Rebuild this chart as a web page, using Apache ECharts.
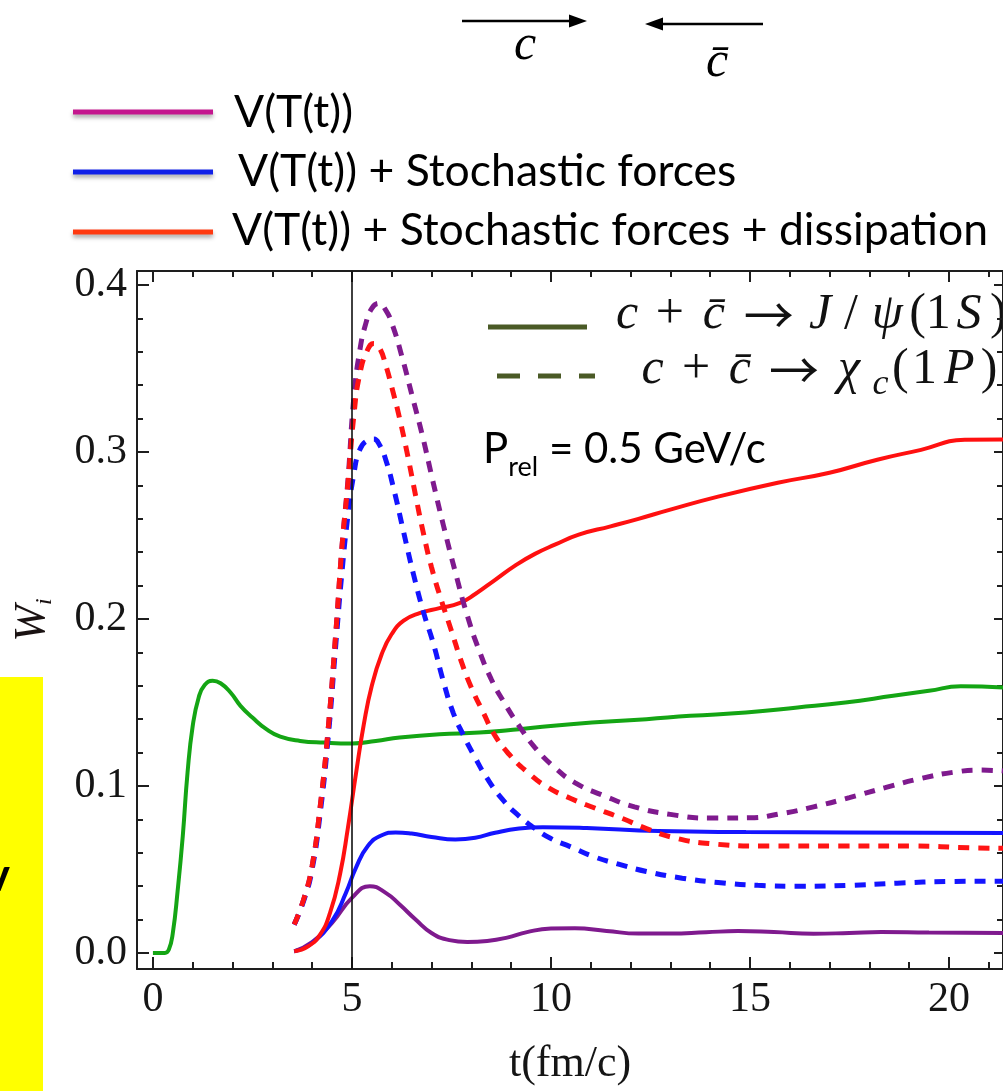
<!DOCTYPE html>
<html>
<head>
<meta charset="utf-8">
<script src="https://cdn.jsdelivr.net/npm/echarts@6/dist/echarts.min.js"></script>
<style>
  html, body { margin: 0; padding: 0; background: #ffffff; }
  #chart { width: 1003px; height: 1091px; }
</style>
</head>
<body>
<div id="chart"></div>
<script>
// ---- tick values ----
const xMajor = [0, 5, 10, 15, 20];
const xMinor = [1, 2, 3, 4, 6, 7, 8, 9, 11, 12, 13, 14, 16, 17, 18, 19, 21];
const yMajor = [0, 0.1, 0.2, 0.3, 0.4];
const yMinor = [0.02, 0.04, 0.06, 0.08, 0.12, 0.14, 0.16, 0.18, 0.22, 0.24, 0.26, 0.28, 0.32, 0.34, 0.36, 0.38];
const tMark = 5;

// ---- J/psi(1S), green ----
const tGreen = [0, 0.3, 0.4, 0.5, 0.62, 0.75, 0.87, 1.0, 1.15, 1.3, 1.5, 1.7, 1.95, 2.2, 2.5, 2.85, 3.2, 3.7, 4.3, 5.0, 5.6, 6.2, 7.2, 8.2, 9.2, 10.5, 12.4, 13.5, 14.9, 16.2, 17.4, 18.6, 19.5, 20.3, 21.36];
const wGreen = [0, 0, 0.002, 0.012, 0.037, 0.070, 0.108, 0.136, 0.153, 0.1605, 0.163, 0.1615, 0.156, 0.148, 0.141, 0.134, 0.1295, 0.127, 0.126, 0.1255, 0.127, 0.129, 0.131, 0.132, 0.134, 0.137, 0.140, 0.142, 0.144, 0.147, 0.150, 0.154, 0.157, 0.1597, 0.159];

// ---- J/psi(1S): V(T(t)) ----
const tPurpleS = [3.55, 4.0, 4.5, 5.0, 5.45, 5.85, 6.2, 6.6, 7.0, 7.45, 7.9, 8.4, 8.9, 9.4, 10.0, 10.6, 11.4, 12.2, 13.0, 13.9, 14.7, 15.6, 16.6, 17.5, 18.3, 19.5, 21.36];
const wPurpleS = [0.001, 0.0065, 0.018, 0.033, 0.040, 0.036, 0.029, 0.020, 0.012, 0.0077, 0.0066, 0.0072, 0.0092, 0.0125, 0.0146, 0.0148, 0.0132, 0.0116, 0.0116, 0.0124, 0.0131, 0.0125, 0.0115, 0.012, 0.0126, 0.0122, 0.012];

// ---- J/psi(1S): V(T(t)) + stochastic forces ----
const tBlueS = [3.55, 4.0, 4.5, 4.85, 5.1, 5.4, 5.75, 6.1, 6.5, 7.0, 7.6, 8.1, 8.6, 9.2, 9.8, 10.9, 12.7, 14.9, 17.4, 21.36];
const wBlueS = [0.001, 0.006, 0.019, 0.036, 0.051, 0.064, 0.0705, 0.0722, 0.0715, 0.0695, 0.068, 0.069, 0.072, 0.0745, 0.0753, 0.0748, 0.073, 0.0724, 0.0722, 0.0718];

// ---- J/psi(1S): V(T(t)) + stochastic forces + dissipation ----
const tRedS = [3.55, 3.9, 4.2, 4.45, 4.7, 4.9, 5.1, 5.3, 5.5, 5.75, 6.0, 6.3, 6.7, 7.2, 7.7, 8.1, 8.6, 9.1, 9.6, 10.1, 10.7, 11.5, 12.2, 13.0, 14.2, 15.7, 17.0, 18.2, 19.3, 20.4, 21.36];
const wRedS = [0.001, 0.004, 0.011, 0.024, 0.047, 0.075, 0.107, 0.137, 0.160, 0.179, 0.191, 0.199, 0.2035, 0.2065, 0.2095, 0.215, 0.2235, 0.232, 0.239, 0.2445, 0.2505, 0.2555, 0.260, 0.2655, 0.2733, 0.2816, 0.2876, 0.2954, 0.3013, 0.3073, 0.3075];

// ---- chi_c(1P): V(T(t)) ----
const tPurpleD = [3.55, 3.8, 4.0, 4.2, 4.4, 4.6, 4.75, 4.9, 5.05, 5.2, 5.35, 5.5, 5.68, 5.85, 6.02, 6.27, 6.52, 6.78, 7.02, 7.3, 7.6, 7.9, 8.2, 8.5, 8.8, 9.2, 9.6, 10.1, 10.6, 11.3, 12.1, 13.0, 14.0, 15.0, 15.8, 16.6, 17.5, 18.4, 19.3, 20.2, 20.8, 21.36];
const wPurpleD = [0.017, 0.033, 0.052, 0.087, 0.133, 0.193, 0.243, 0.283, 0.333, 0.361, 0.377, 0.386, 0.389, 0.385, 0.376, 0.356, 0.333, 0.309, 0.284, 0.256, 0.228, 0.202, 0.181, 0.164, 0.151, 0.136, 0.123, 0.111, 0.102, 0.0945, 0.0875, 0.083, 0.0808, 0.081, 0.0835, 0.0875, 0.093, 0.099, 0.1045, 0.1085, 0.1095, 0.109];

// ---- chi_c(1P): V(T(t)) + stochastic forces ----
const tBlueD = [3.55, 3.8, 4.0, 4.2, 4.4, 4.6, 4.75, 4.9, 5.05, 5.2, 5.4, 5.55, 5.7, 5.85, 6.05, 6.3, 6.55, 6.8, 7.05, 7.3, 7.55, 7.8, 8.05, 8.4, 8.8, 9.2, 9.6, 10.0, 10.5, 11.1, 11.7, 12.4, 13.3, 14.2, 15.2, 16.3, 17.5, 18.7, 20.0, 21.36];
const wBlueD = [0.017, 0.032, 0.05, 0.083, 0.128, 0.186, 0.228, 0.262, 0.287, 0.3015, 0.307, 0.3078, 0.304, 0.2954, 0.278, 0.252, 0.2265, 0.204, 0.185, 0.1625, 0.1435, 0.1305, 0.119, 0.1045, 0.0915, 0.082, 0.0745, 0.0685, 0.0635, 0.0575, 0.0532, 0.0488, 0.0448, 0.0422, 0.0405, 0.040, 0.0405, 0.0418, 0.0428, 0.043];

// ---- chi_c(1P): V(T(t)) + stochastic forces + dissipation ----
const tRedD = [3.55, 3.8, 4.0, 4.2, 4.4, 4.6, 4.75, 4.9, 5.05, 5.2, 5.4, 5.55, 5.7, 5.85, 6.0, 6.2, 6.4, 6.6, 6.8, 7.0, 7.25, 7.5, 7.75, 8.0, 8.3, 8.6, 8.95, 9.4, 9.9, 10.5, 11.1, 11.8, 12.4, 13.1, 14.0, 15.3, 17.4, 19.1, 20.5, 21.36];
const wRedD = [0.017, 0.033, 0.052, 0.087, 0.133, 0.193, 0.243, 0.281, 0.322, 0.347, 0.3615, 0.365, 0.362, 0.352, 0.339, 0.32, 0.298, 0.274, 0.251, 0.231, 0.211, 0.193, 0.1745, 0.159, 0.144, 0.130, 0.119, 0.1085, 0.0995, 0.0925, 0.0868, 0.0805, 0.0745, 0.069, 0.0655, 0.064, 0.064, 0.064, 0.063, 0.0627];

const X_MIN = -0.4, X_MAX = 21.36;
const Y_MIN = -0.0096, Y_MAX = 0.4084;

const pairs = (t, w) => t.map((x, i) => [x, w[i]]);

const FRAME = '#1e1e1e';
const SERIF = '"Liberation Serif", "DejaVu Serif", serif';
const SANS = 'Lato, "Open Sans", sans-serif';

function xAxis(position, ticks, len, withLine, withLabels) {
  return {
    type: 'value', gridIndex: 0, position: position, offset: 0,
    min: X_MIN, max: X_MAX,
    splitLine: { show: false },
    axisLine: { show: withLine, onZero: false, lineStyle: { color: FRAME, width: 2 } },
    axisTick: { show: true, inside: true, length: len, customValues: ticks, lineStyle: { color: FRAME, width: 2 } },
    axisLabel: { show: withLabels, customValues: ticks, margin: 10, fontFamily: SERIF, fontSize: 42, color: '#151515',
      formatter: v => String(v) }
  };
}
function yAxis(position, ticks, len, withLine, withLabels) {
  return {
    type: 'value', gridIndex: 0, position: position, offset: 0,
    min: Y_MIN, max: Y_MAX,
    splitLine: { show: false },
    axisLine: { show: withLine, onZero: false, lineStyle: { color: FRAME, width: 2 } },
    axisTick: { show: true, inside: true, length: len, customValues: ticks, lineStyle: { color: FRAME, width: 2 } },
    axisLabel: { show: withLabels, customValues: ticks, margin: 10, fontFamily: SERIF, fontSize: 42, color: '#151515',
      formatter: v => v.toFixed(1) }
  };
}

const xAxes = [
  xAxis('bottom', xMajor, 12, true, true),
  xAxis('bottom', xMinor, 7, false, false),
  xAxis('top', xMajor, 11, true, false),
  xAxis('top', xMinor, 6, false, false)
];
Object.assign(xAxes[0], {
  name: 't(fm/c)', nameLocation: 'middle', nameGap: 73,
  nameTextStyle: { fontFamily: SERIF, fontSize: 44, color: '#151515', lineHeight: 44 }
});

const yAxes = [
  yAxis('left', yMajor, 12, true, true),
  yAxis('left', yMinor, 6, false, false),
  yAxis('right', yMajor, 9, true, false),
  yAxis('right', yMinor, 6, false, false)
];
Object.assign(yAxes[0], {
  name: '{w|W}{s|i}', nameLocation: 'middle', nameGap: 80,
  nameTextStyle: {
    rich: {
      w: { fontFamily: SERIF, fontStyle: 'italic', fontSize: 44, lineHeight: 50, color: '#1a1212' },
      s: { fontFamily: SERIF, fontStyle: 'italic', fontSize: 24, lineHeight: 26, verticalAlign: 'bottom', color: '#1a1212' }
    }
  }
});

function curve(name, t, w, color, dashed) {
  return {
    name: name, type: 'line', xAxisIndex: 0, yAxisIndex: 0,
    data: pairs(t, w), showSymbol: false, symbol: 'none',
    smooth: 0.5, clip: true,
    lineStyle: dashed ? { color: color, width: 5, type: [11, 9], cap: 'butt' } : { color: color, width: 4 },
    emphasis: { disabled: true }
  };
}

const series = [
  Object.assign(curve('J/ψ(1S) green', tGreen, wGreen, '#14a514', false), {
    markLine: {
      silent: true, symbol: ['none', 'none'], label: { show: false },
      lineStyle: { color: '#111111', width: 1.6, type: 'solid' },
      data: [{ xAxis: tMark }]
    }
  }),
  curve('J/ψ(1S): V(T(t))', tPurpleS, wPurpleS, '#7f1a8e', false),
  curve('J/ψ(1S): V(T(t)) + Stochastic forces', tBlueS, wBlueS, '#1414ff', false),
  curve('J/ψ(1S): V(T(t)) + Stochastic forces + dissipation', tRedS, wRedS, '#ff1010', false),
  curve('χc(1P): V(T(t))', tPurpleD, wPurpleD, '#7f1a8e', true),
  curve('χc(1P): V(T(t)) + Stochastic forces', tBlueD, wBlueD, '#1414ff', true),
  curve('χc(1P): V(T(t)) + Stochastic forces + dissipation', tRedD, wRedD, '#ff1414', true)
];

// ---- math legend rows: each glyph placed in a token of set width ----
const mathFonts = {
  i: { fontFamily: SERIF, fontStyle: 'italic', fontSize: 50, lineHeight: 66, fill: '#111' },
  r: { fontFamily: SERIF, fontSize: 50, lineHeight: 66, fill: '#111' },
  a: { fontFamily: '"Noto Sans CJK JP", "DejaVu Sans", sans-serif', fontSize: 50, lineHeight: 66, fill: '#111' },
  s: { fontFamily: SERIF, fontStyle: 'italic', fontSize: 36, lineHeight: 36, verticalAlign: 'bottom', fill: '#111' }
};
function mathRow(tokens) {
  let text = '';
  const rich = {};
  tokens.forEach((tk, k) => {
    const key = 't' + k;
    rich[key] = Object.assign({}, mathFonts[tk[1]], { width: tk[2], align: tk[3] || 'center' });
    text += '{' + key + '|' + tk[0] + '}';
  });
  return { text: text, rich: rich, align: 'left', verticalAlign: 'middle' };
}
const rowPsi = mathRow([
  ['c', 'i', 40], ['+', 'r', 45.5], ['c\u0304', 'i', 42.5], ['→', 'a', 67.5], ['J', 'i', 35, 'right'], ['/', 'r', 27],
  ['ψ', 'i', 45.5, 'left'], ['(', 'r', 15], ['1', 'r', 26.5], ['S', 'i', 35], [')', 'r', 23.5]
]);
const rowChi = mathRow([
  ['c', 'i', 42], ['+', 'r', 45], ['c\u0304', 'i', 42.5], ['→', 'a', 66], ['χ', 'i', 44, 'right'], ['c', 's', 19],
  ['(', 'r', 20.5], ['1', 'r', 28], ['P', 'i', 41.5], [')', 'r', 18]
]);

// ---- annotations ----
const legendShadow = { shadowBlur: 4, shadowOffsetY: 3, shadowColor: 'rgba(0,0,0,0.35)' };
const OLIVE = '#4a5a26';

const graphic = [
  // yellow side panel
  { type: 'rect', shape: { x: 0, y: 677, width: 43, height: 414 }, style: { fill: '#ffff00' }, silent: true },
  { type: 'text', x: 10, y: 876, style: { text: 'v', fontFamily: SANS, fontWeight: 'bold', fontSize: 46, fill: '#000', align: 'right', verticalAlign: 'middle' } },

  // c and c-bar arrows
  { type: 'line', shape: { x1: 462, y1: 21, x2: 572, y2: 21 }, style: { stroke: '#000', lineWidth: 2.5 } },
  { type: 'polygon', shape: { points: [[587, 21], [569, 14.5], [569, 27.5]] }, style: { fill: '#000' } },
  { type: 'line', shape: { x1: 660, y1: 24, x2: 763, y2: 24 }, style: { stroke: '#000', lineWidth: 2.5 } },
  { type: 'polygon', shape: { points: [[645, 24], [663, 17.5], [663, 30.5]] }, style: { fill: '#000' } },
  { type: 'text', x: 525, y: 46, style: { text: 'c', fontFamily: SERIF, fontStyle: 'italic', fontSize: 50, fill: '#000', align: 'center', verticalAlign: 'middle' } },
  { type: 'text', x: 717, y: 63, style: { text: 'c\u0304', fontFamily: SERIF, fontStyle: 'italic', fontSize: 50, fill: '#000', align: 'center', verticalAlign: 'middle' } },

  // potential legend
  { type: 'line', shape: { x1: 73, y1: 112, x2: 213, y2: 112 }, style: Object.assign({ stroke: '#c4168e', lineWidth: 5 }, legendShadow) },
  { type: 'line', shape: { x1: 73, y1: 172, x2: 213, y2: 172 }, style: Object.assign({ stroke: '#1020e8', lineWidth: 5 }, legendShadow) },
  { type: 'line', shape: { x1: 73, y1: 232, x2: 213, y2: 232 }, style: Object.assign({ stroke: '#ff3a10', lineWidth: 5 }, legendShadow) },
  { type: 'text', x: 234, y: 113, style: { text: 'V(T(t))', fontFamily: SANS, fontSize: 44.5, fill: '#000', align: 'left', verticalAlign: 'middle' } },
  { type: 'text', x: 238, y: 172, style: { text: 'V(T(t)) + Stochastic forces', fontFamily: SANS, fontSize: 44.5, fill: '#000', align: 'left', verticalAlign: 'middle' } },
  { type: 'text', x: 232, y: 231, style: { text: 'V(T(t)) + Stochastic forces + dissipation', fontFamily: SANS, fontSize: 44.5, fill: '#000', align: 'left', verticalAlign: 'middle' } },

  // state legend
  { type: 'line', shape: { x1: 488, y1: 327, x2: 587, y2: 327 }, style: { stroke: OLIVE, lineWidth: 5 } },
  { type: 'line', shape: { x1: 497, y1: 376, x2: 595, y2: 376 }, style: { stroke: OLIVE, lineWidth: 5, lineDash: [23, 18] } },
  { type: 'text', x: 607, y: 315, style: rowPsi },
  { type: 'text', x: 631.5, y: 370, style: rowChi },

  // relative momentum note
  { type: 'text', x: 483, y: 449, style: {
      text: '{m|P}{s|rel}{m| = 0.5 GeV/c}',
      align: 'left', verticalAlign: 'middle',
      rich: {
        m: { fontFamily: SANS, fontSize: 42, lineHeight: 64, fill: '#000' },
        s: { fontFamily: SANS, fontSize: 27, lineHeight: 27, verticalAlign: 'bottom', fill: '#000' }
      } } }
];

const chart = echarts.init(document.getElementById('chart'), null, { renderer: 'canvas' });
chart.setOption({
  animation: false,
  backgroundColor: '#ffffff',
  grid: { left: 137, top: 271, right: -2, bottom: 121, containLabel: false },
  xAxis: xAxes,
  yAxis: yAxes,
  series: series,
  graphic: graphic
});
</script>
</body>
</html>
